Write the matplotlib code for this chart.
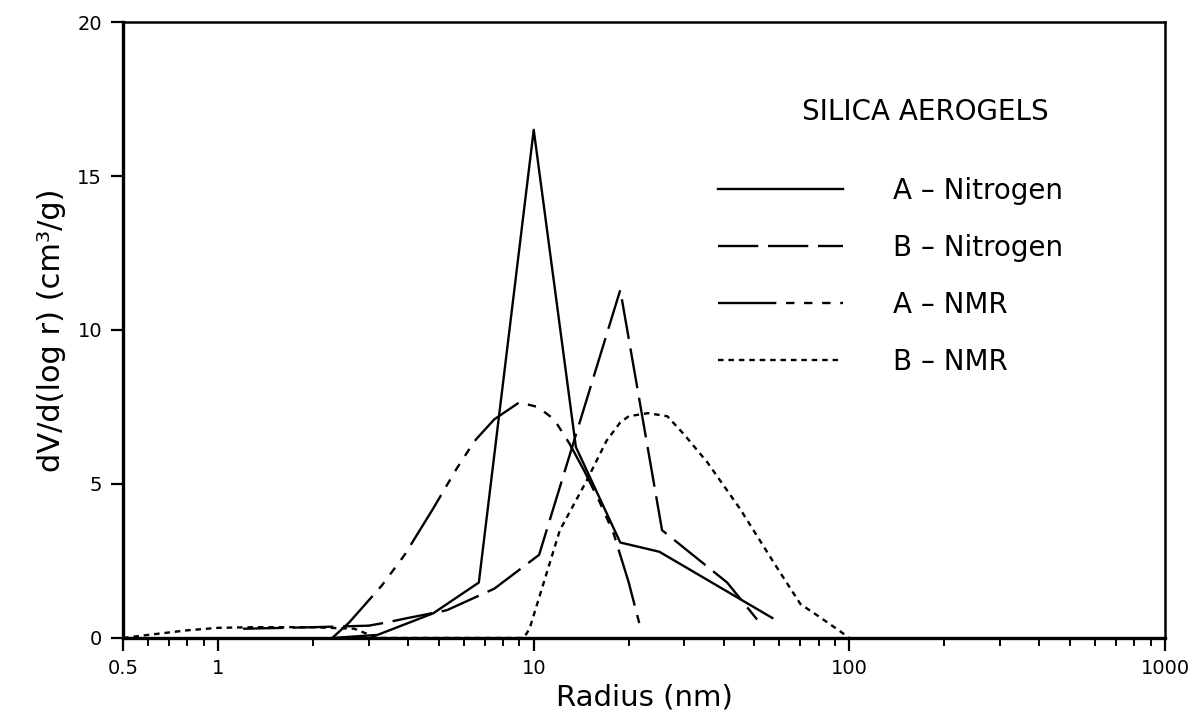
import matplotlib
matplotlib.use('Agg')
import matplotlib.pyplot as plt
from matplotlib.ticker import FixedLocator, NullFormatter

#fonts and dash settings
plt.rcParams['font.family'] = ['DejaVu Sans']
plt.rcParams['lines.scale_dashes'] = False

#data (radius in nm, dV/d(log r) in cm3/g)
a_n2_r = [2.3, 3.2, 4.8, 6.7, 10.0, 13.6, 18.8, 25.0, 57.0]
a_n2_v = [0.0, 0.1, 0.8, 1.8, 16.5, 6.2, 3.1, 2.8, 0.65]

b_n2_r = [1.2, 2.0, 3.0, 3.4, 4.0, 5.3, 7.5, 10.4, 18.8, 25.5, 41.0, 51.0]
b_n2_v = [0.3, 0.35, 0.4, 0.5, 0.65, 0.9, 1.6, 2.7, 11.3, 3.5, 1.8, 0.6]

a_nmr_r = [2.3, 2.6, 3.3, 3.9, 4.8, 5.7, 6.5, 7.5, 9.0, 10.3, 11.6, 13.0, 14.5, 16.2, 17.9, 20.0, 21.7]
a_nmr_v = [0.0, 0.5, 1.7, 2.7, 4.2, 5.5, 6.4, 7.1, 7.65, 7.5, 7.1, 6.3, 5.4, 4.4, 3.4, 1.8, 0.4]

b_nmr_r = [0.5, 0.6, 0.8, 1.0, 1.3, 2.0, 2.7, 3.2, 9.3, 9.7, 12.1, 14.7, 17.0, 18.8, 20.0, 23.0,
           26.5, 30.0, 35.5, 45.0, 58.0, 70.0, 80.0, 94.0, 100.0]
b_nmr_v = [0.0, 0.1, 0.25, 0.33, 0.35, 0.35, 0.3, 0.0, 0.0, 0.3, 3.5, 5.1, 6.4, 7.0, 7.2, 7.3,
           7.2, 6.6, 5.7, 4.2, 2.4, 1.1, 0.7, 0.2, 0.0]

labels = ['A \u2013 Nitrogen', 'B \u2013 Nitrogen', 'A \u2013 NMR', 'B \u2013 NMR']
x_ticks = [0.5, 1, 10, 100, 1000]
x_ticklabels = ['0.5', '1', '10', '100', '1000']
y_ticks = [0, 5, 10, 15, 20]

LW = 1.7
fig = plt.figure(figsize=(11.97, 7.17), dpi=100)
ax = fig.add_axes([0.1028, 0.1102, 0.8705, 0.8591])

l1, = ax.plot(a_n2_r, a_n2_v, color='black', lw=LW, linestyle='-')
l2, = ax.plot(b_n2_r, b_n2_v, color='black', lw=LW, linestyle=(0, (29, 7)))
l3, = ax.plot(a_nmr_r, a_nmr_v, color='black', lw=LW, linestyle=(0, (42, 7, 6, 7, 6, 7, 6, 7)))
l4, = ax.plot(b_nmr_r, b_nmr_v, color='black', lw=LW, linestyle=(0, (4, 3.5)))

ax.set_xscale('log')
ax.set_xlim(0.5, 1000)
ax.set_ylim(0, 20)

#ticks
ax.xaxis.set_major_locator(FixedLocator(x_ticks))
ax.set_xticklabels(x_ticklabels)
minors = [m * d for d in [0.1, 1, 10, 100] for m in range(2, 10) if 0.5 < m * d < 1000 and m * d not in x_ticks]
ax.xaxis.set_minor_locator(FixedLocator(minors))
ax.xaxis.set_minor_formatter(NullFormatter())
ax.set_yticks(y_ticks)
ax.tick_params(axis='both', which='major', direction='out', length=9, width=1.6, labelsize=14, pad=6)
ax.tick_params(axis='x', which='minor', direction='out', length=6, width=1.4)
ax.tick_params(top=False, right=False)

for s in ['left', 'bottom']:
    ax.spines[s].set_linewidth(2.4)
for s in ['top', 'right']:
    ax.spines[s].set_linewidth(1.8)

ax.set_xlabel('Radius (nm)', fontsize=21, labelpad=4)
ax.set_ylabel('dV/d(log r) (cm\u00b3/g)', fontsize=22, labelpad=8)

#legend
ax.text(0.77, 0.854, 'SILICA AEROGELS', transform=ax.transAxes, fontsize=20, ha='center', va='center')
ax.legend([l1, l2, l3, l4], labels, loc='upper left', bbox_to_anchor=(0.571, 0.749), frameon=False,
          fontsize=20, handlelength=4.5, handletextpad=1.8, labelspacing=1.05, borderpad=0, borderaxespad=0)

fig.savefig('out.png', dpi=100, facecolor='white')
